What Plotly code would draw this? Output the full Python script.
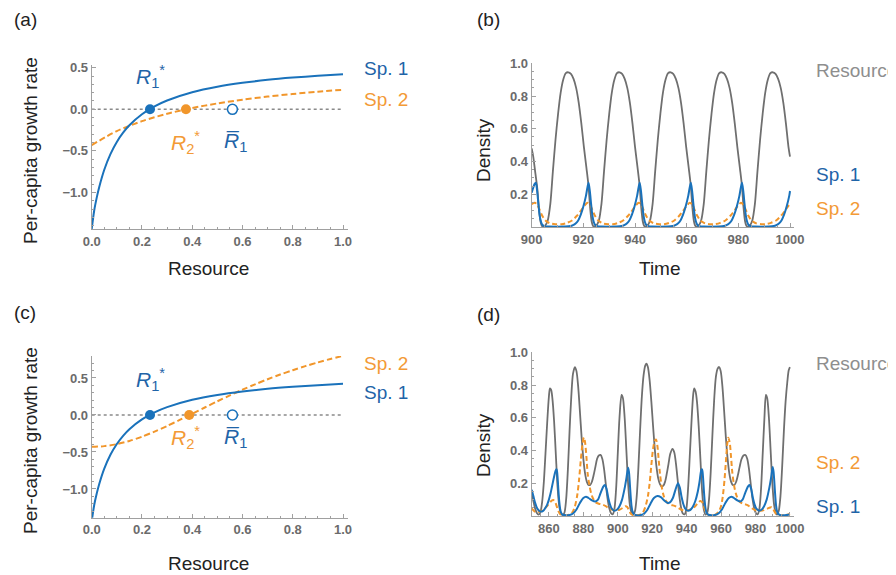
import plotly.graph_objects as go

# ---------------- data: panels (a) and (c) ----------------
res_sp1 = [0, 0.01, 0.02, 0.03, 0.05, 0.075, 0.1, 0.125, 0.15, 0.2, 0.25, 0.3, 0.4, 0.5, 0.6, 0.7, 0.8, 0.9, 1.0]
rate_sp1 = [-1.44, -1.216, -1.062, -0.933, -0.726, -0.535, -0.392, -0.281, -0.192, -0.060, 0.035, 0.106,
            0.205, 0.271, 0.318, 0.354, 0.381, 0.403, 0.421]
res_sp2_a = [0, 0.1, 0.2, 0.3, 0.4, 0.5, 0.6, 0.7, 0.8, 0.9, 1.0]
rate_sp2_a = [-0.43, -0.262, -0.1425, -0.0535, 0.0155, 0.0705, 0.1154, 0.1527, 0.1843, 0.2113, 0.2347]
res_sp2_c = [0, 0.05, 0.1, 0.15, 0.2, 0.25, 0.3, 0.35, 0.4, 0.45, 0.5, 0.55, 0.6, 0.65, 0.7, 0.75, 0.8,
             0.85, 0.9, 0.95, 1.0]
rate_sp2_c = [-0.43, -0.4208, -0.394, -0.3507, -0.2935, -0.2252, -0.149, -0.0673, 0.0169, 0.1014, 0.1845,
              0.265, 0.342, 0.4145, 0.4827, 0.5464, 0.6054, 0.6601, 0.7106, 0.757, 0.7998]
zero_line_x = [0, 1.0]
zero_line_y = [0, 0]
r1_star_a, r2_star_a, r1_bar_a = 0.232, 0.375, 0.56
r1_star_c, r2_star_c, r1_bar_c = 0.232, 0.388, 0.56

# ---------------- data: panel (b) ----------------
b_res_t = [900.0, 900.6, 901.4, 902.2, 902.8, 903.4, 903.8,
           904.2, 905.2, 906.2, 907.2, 908.2, 909.2, 910.2, 911.2, 912.2, 913.2, 914.2, 915.2, 916.2, 917.2,
           918.2, 919.2, 920.2, 921.2, 922.0, 922.6, 923.2, 923.6,
           924.0, 925.0, 926.0, 927.0, 928.0, 929.0, 930.0, 931.0, 932.0, 933.0, 934.0, 935.0, 936.0, 937.0,
           938.0, 939.0, 940.0, 941.0, 941.8, 942.4, 943.0, 943.4,
           943.8, 944.8, 945.8, 946.8, 947.8, 948.8, 949.8, 950.8, 951.8, 952.8, 953.8, 954.8, 955.8, 956.8,
           957.8, 958.8, 959.8, 960.8, 961.6, 962.2, 962.8, 963.2,
           963.6, 964.6, 965.6, 966.6, 967.6, 968.6, 969.6, 970.6, 971.6, 972.6, 973.6, 974.6, 975.6, 976.6,
           977.6, 978.6, 979.6, 980.6, 981.4, 982.0, 982.6, 983.0,
           983.4, 984.4, 985.4, 986.4, 987.4, 988.4, 989.4, 990.4, 991.4, 992.4, 993.4, 994.4, 995.4, 996.4,
           997.4, 998.4, 999.4, 1000.0]
b_res_y = [0.48, 0.43, 0.33, 0.23, 0.11, 0.035, 0.012,
           0.003, 0.008, 0.04, 0.14, 0.34, 0.53, 0.69, 0.82, 0.9, 0.94, 0.945, 0.935, 0.905, 0.85,
           0.76, 0.635, 0.49, 0.36, 0.25, 0.12, 0.035, 0.012,
           0.003, 0.008, 0.04, 0.14, 0.34, 0.53, 0.69, 0.82, 0.9, 0.94, 0.945, 0.935, 0.905, 0.85,
           0.76, 0.635, 0.49, 0.36, 0.25, 0.12, 0.035, 0.012,
           0.003, 0.008, 0.04, 0.14, 0.34, 0.53, 0.69, 0.82, 0.9, 0.94, 0.945, 0.935, 0.905, 0.85,
           0.76, 0.635, 0.49, 0.36, 0.25, 0.12, 0.035, 0.012,
           0.003, 0.008, 0.04, 0.14, 0.34, 0.53, 0.69, 0.82, 0.9, 0.94, 0.945, 0.935, 0.905, 0.85,
           0.76, 0.635, 0.49, 0.36, 0.25, 0.12, 0.035, 0.012,
           0.003, 0.008, 0.04, 0.14, 0.34, 0.53, 0.69, 0.82, 0.9, 0.94, 0.945, 0.935, 0.905, 0.85,
           0.76, 0.635, 0.49, 0.43]
b_sp1_t = [900.0, 900.6, 901.1, 901.6, 902.1, 902.6, 903.1, 903.6, 904.1, 905.1, 906.6, 909.6,
           913.0, 915.0, 916.0, 917.0, 918.0, 919.0, 920.0, 921.0, 921.5, 922.0, 922.5, 923.0, 923.5, 924.0,
           924.5, 925.5, 927.0, 930.0,
           932.8, 934.8, 935.8, 936.8, 937.8, 938.8, 939.8, 940.8, 941.3, 941.8, 942.3, 942.8, 943.3, 943.8,
           944.3, 945.3, 946.8, 949.8,
           952.6, 954.6, 955.6, 956.6, 957.6, 958.6, 959.6, 960.6, 961.1, 961.6, 962.1, 962.6, 963.1, 963.6,
           964.1, 965.1, 966.6, 969.6,
           972.4, 974.4, 975.4, 976.4, 977.4, 978.4, 979.4, 980.4, 980.9, 981.4, 981.9, 982.4, 982.9, 983.4,
           983.9, 984.9, 986.4, 989.4,
           991.7, 993.7, 994.7, 995.7, 996.7, 997.7, 998.7, 999.7, 1000.0]
b_sp1_y = [0.21, 0.24, 0.262, 0.27, 0.22, 0.14, 0.07, 0.032, 0.014, 0.005, 0.003, 0.002,
           0.003, 0.006, 0.012, 0.022, 0.04, 0.075, 0.125, 0.19, 0.235, 0.27, 0.22, 0.14, 0.07, 0.032,
           0.014, 0.005, 0.003, 0.002,
           0.003, 0.006, 0.012, 0.022, 0.04, 0.075, 0.125, 0.19, 0.235, 0.27, 0.22, 0.14, 0.07, 0.032,
           0.014, 0.005, 0.003, 0.002,
           0.003, 0.006, 0.012, 0.022, 0.04, 0.075, 0.125, 0.19, 0.235, 0.27, 0.22, 0.14, 0.07, 0.032,
           0.014, 0.005, 0.003, 0.002,
           0.003, 0.006, 0.012, 0.022, 0.04, 0.075, 0.125, 0.19, 0.235, 0.27, 0.22, 0.14, 0.07, 0.032,
           0.014, 0.005, 0.003, 0.002,
           0.003, 0.006, 0.012, 0.022, 0.04, 0.075, 0.125, 0.19, 0.22]
b_sp2_t = [900.0, 901.2, 902.2, 903.2, 904.2, 905.2, 906.2, 907.2, 909.2, 911.6,
           913.6, 915.6, 917.6, 918.6, 919.6, 920.6, 921.6, 922.6, 923.6, 924.6, 925.6, 926.6, 927.6, 929.6, 931.4,
           933.4, 935.4, 937.4, 938.4, 939.4, 940.4, 941.4, 942.4, 943.4, 944.4, 945.4, 946.4, 947.4, 949.4, 951.2,
           953.2, 955.2, 957.2, 958.2, 959.2, 960.2, 961.2, 962.2, 963.2, 964.2, 965.2, 966.2, 967.2, 969.2, 971.0,
           973.0, 975.0, 977.0, 978.0, 979.0, 980.0, 981.0, 982.0, 983.0, 984.0, 985.0, 986.0, 987.0, 989.0, 990.6,
           992.6, 994.6, 996.6, 997.6, 998.6, 999.6, 1000.0]
b_sp2_y = [0.14, 0.148, 0.135, 0.1, 0.065, 0.042, 0.03, 0.022, 0.017, 0.017,
           0.025, 0.04, 0.07, 0.09, 0.112, 0.133, 0.148, 0.135, 0.1, 0.065, 0.042, 0.03, 0.022, 0.017, 0.017,
           0.025, 0.04, 0.07, 0.09, 0.112, 0.133, 0.148, 0.135, 0.1, 0.065, 0.042, 0.03, 0.022, 0.017, 0.017,
           0.025, 0.04, 0.07, 0.09, 0.112, 0.133, 0.148, 0.135, 0.1, 0.065, 0.042, 0.03, 0.022, 0.017, 0.017,
           0.025, 0.04, 0.07, 0.09, 0.112, 0.133, 0.148, 0.135, 0.1, 0.065, 0.042, 0.03, 0.022, 0.017, 0.017,
           0.025, 0.04, 0.07, 0.09, 0.112, 0.133, 0.14]

# ---------------- data: panel (d) ----------------
d_res_t = [850, 851, 852, 853, 854, 855, 856, 857, 858, 859, 860, 860.6, 861.3, 862, 863, 864, 865, 866, 867,
           868, 869, 870, 871, 872, 873, 874, 875.1, 876, 877, 878, 879, 880, 881, 882, 883, 884, 885, 886, 887,
           888, 889, 890, 891, 892, 893, 894, 895, 896, 897, 898, 899, 900, 901, 902.2, 903, 904, 905, 906, 907,
           908, 909, 910, 911, 912, 913, 914, 915, 916, 916.7, 917.5, 918.5, 919.5, 920.5, 921.5, 922.5, 923.5,
           924.5, 925.5, 926.5, 927.5, 928.5, 929.5, 930.5, 931.8, 932.8, 933.8, 934.8, 935.8, 936.8, 937.8,
           938.8, 939.8, 940.8, 941.8, 942.8, 943.8, 944.4, 945.2, 946, 947, 948, 949, 950, 951, 952, 953, 954,
           955, 956, 957, 958, 958.9, 959.8, 960.8, 961.8, 962.8, 963.8, 964.8, 965.8, 966.8, 967.8, 968.8,
           969.8, 970.8, 971.8, 973, 974.2, 975.2, 976.2, 977.2, 978.2, 979.2, 980.2, 981.2, 982.2, 983.2,
           984.2, 985.2, 986.05, 986.8, 987.8, 988.8, 989.8, 990.8, 991.8, 992.5, 993.5, 994.5, 995.5, 996.5,
           997.5, 998.5, 999.3, 1000]
d_res_y = [0.13, 0.09, 0.045, 0.018, 0.008, 0.02, 0.08, 0.2, 0.38, 0.57, 0.73, 0.78, 0.77, 0.72, 0.58, 0.38,
           0.18, 0.06, 0.015, 0.006, 0.02, 0.1, 0.28, 0.52, 0.73, 0.87, 0.91, 0.885, 0.79, 0.64, 0.48, 0.35,
           0.26, 0.21, 0.19, 0.19, 0.21, 0.25, 0.3, 0.35, 0.37, 0.373, 0.35, 0.29, 0.2, 0.11, 0.05, 0.018, 0.01,
           0.04, 0.16, 0.38, 0.6, 0.74, 0.72, 0.6, 0.4, 0.2, 0.07, 0.02, 0.008, 0.03, 0.12, 0.3, 0.53, 0.73,
           0.86, 0.92, 0.93, 0.91, 0.83, 0.7, 0.55, 0.41, 0.3, 0.23, 0.195, 0.18, 0.185, 0.21, 0.26, 0.32, 0.38,
           0.41, 0.39, 0.32, 0.22, 0.12, 0.05, 0.015, 0.01, 0.04, 0.16, 0.36, 0.57, 0.74, 0.78, 0.76, 0.7, 0.55,
           0.35, 0.15, 0.04, 0.008, 0.02, 0.1, 0.27, 0.5, 0.71, 0.85, 0.9, 0.91, 0.885, 0.79, 0.64, 0.48, 0.35,
           0.26, 0.21, 0.19, 0.19, 0.21, 0.25, 0.3, 0.345, 0.37, 0.373, 0.35, 0.29, 0.2, 0.11, 0.05, 0.018, 0.01,
           0.04, 0.16, 0.38, 0.6, 0.74, 0.72, 0.6, 0.4, 0.2, 0.07, 0.02, 0.008, 0.03, 0.12, 0.3, 0.52, 0.7,
           0.82, 0.89, 0.91]
d_sp1_t = [850, 851, 852, 853, 854, 855, 856, 857, 858, 859, 860, 861, 862, 863, 864, 864.5, 865, 865.5, 866,
           866.5, 867, 868, 870, 872, 874, 876, 878, 880, 881.5, 883, 885, 887, 888.5, 890, 891.5, 892.5, 893.5,
           894.5, 895.5, 896.5, 898, 899.5, 901, 902.5, 904, 905, 906, 906.5, 907, 907.5, 908, 908.5, 909.5,
           911, 913, 915, 917, 919, 921, 923, 925, 927, 929, 930.5, 932, 933.5, 935, 936, 937, 938, 939, 940.5,
           942, 943.5, 945, 946.5, 947.5, 948.5, 949, 949.5, 950, 950.5, 951, 951.5, 952.5, 954.5, 956.5, 958.5,
           960.5, 962.5, 964.5, 966, 967.5, 969.5, 971, 972.5, 974, 975.5, 976.5, 977.5, 978.5, 979.5, 980.5,
           982, 983.5, 985, 986.5, 988, 989, 990, 990.5, 991, 991.5, 992, 992.5, 993.5, 995, 997, 999, 1000]
d_sp1_y = [0.16, 0.12, 0.08, 0.05, 0.035, 0.028, 0.028, 0.035, 0.05, 0.07, 0.1, 0.14, 0.19, 0.24, 0.28, 0.285,
           0.24, 0.16, 0.09, 0.045, 0.022, 0.008, 0.004, 0.006, 0.015, 0.04, 0.08, 0.11, 0.118, 0.11, 0.095,
           0.088, 0.1, 0.14, 0.178, 0.19, 0.165, 0.11, 0.07, 0.045, 0.033, 0.038, 0.06, 0.1, 0.17, 0.23, 0.295,
           0.27, 0.2, 0.12, 0.06, 0.03, 0.01, 0.004, 0.005, 0.012, 0.035, 0.075, 0.11, 0.122, 0.115, 0.095,
           0.08, 0.085, 0.11, 0.16, 0.2, 0.175, 0.12, 0.075, 0.048, 0.033, 0.036, 0.055, 0.09, 0.15, 0.21, 0.28,
           0.285, 0.24, 0.16, 0.09, 0.045, 0.022, 0.008, 0.004, 0.006, 0.015, 0.04, 0.08, 0.11, 0.118, 0.11,
           0.095, 0.088, 0.1, 0.14, 0.178, 0.19, 0.165, 0.11, 0.07, 0.045, 0.033, 0.038, 0.06, 0.1, 0.17, 0.23,
           0.3, 0.27, 0.2, 0.12, 0.06, 0.03, 0.01, 0.004, 0.005, 0.008, 0.01]
d_sp2_t = [850, 851, 852, 853, 854, 856, 858, 860, 861.5, 862.5, 863.5, 864.5, 865.5, 866.5, 868, 870, 872,
           873.5, 875, 876.5, 877.5, 878.5, 879.5, 880.3, 881, 881.8, 882.5, 883.5, 884.5, 885.5, 887, 889, 891,
           893, 895, 897, 899, 901, 903, 904.5, 905.5, 906.5, 907.5, 909, 911, 913, 914.5, 916, 917.5, 918.5,
           919.5, 920.5, 921.5, 922.2, 923, 923.8, 924.5, 925.5, 926.5, 927.5, 929, 931, 933, 935, 937, 939,
           941, 943, 945, 946.5, 948, 949, 950, 951, 952, 953.5, 955.5, 957, 958.5, 960, 961, 962, 962.8, 963.6,
           964.2, 965, 965.8, 966.5, 967.5, 968.5, 969.5, 971, 973, 975, 977, 979, 981, 983, 985, 987, 988.5,
           989.3, 990.2, 991, 992, 993.5, 995.5, 997.5, 999, 1000]
d_sp2_y = [0.047, 0.035, 0.025, 0.022, 0.025, 0.035, 0.05, 0.075, 0.093, 0.098, 0.088, 0.06, 0.03, 0.012,
           0.005, 0.004, 0.008, 0.02, 0.055, 0.13, 0.22, 0.34, 0.44, 0.48, 0.45, 0.36, 0.26, 0.19, 0.14, 0.11,
           0.085, 0.075, 0.07, 0.06, 0.045, 0.038, 0.035, 0.038, 0.05, 0.06, 0.055, 0.035, 0.015, 0.005, 0.004,
           0.008, 0.02, 0.055, 0.12, 0.2, 0.31, 0.41, 0.46, 0.468, 0.43, 0.34, 0.26, 0.18, 0.13, 0.1, 0.08,
           0.068, 0.062, 0.05, 0.038, 0.032, 0.036, 0.045, 0.06, 0.078, 0.092, 0.085, 0.055, 0.028, 0.012,
           0.005, 0.004, 0.01, 0.025, 0.06, 0.12, 0.22, 0.33, 0.44, 0.478, 0.45, 0.36, 0.27, 0.19, 0.14, 0.11,
           0.085, 0.075, 0.068, 0.055, 0.04, 0.032, 0.032, 0.036, 0.045, 0.052, 0.053, 0.045, 0.028, 0.012,
           0.005, 0.004, 0.006, 0.01, 0.014]

# ---------------- style ----------------
# The page body has an 8px default margin, so the figure is drawn 8px smaller and
# positions are given in window pixels minus that offset.
OFF = 8
W, H = 896 - OFF, 575 - OFF
BLUE = "#1a72bb"
BLUE_TXT = "#1f64a8"
ORANGE = "#f1962b"
ORANGE_TXT = "#f39a36"
GRAY = "#6f6f6f"
GRAY_TXT = "#8e8e8e"
AX = "#a0a0a0"
FONT = "Liberation Sans"


def px(x):
    return (x - OFF) / W


def py(y):
    return 1 - (y - OFF) / H


fig = go.Figure()

spl = dict(shape="spline", smoothing=0.8)

# panel (a)
fig.add_trace(go.Scatter(x=zero_line_x, y=zero_line_y, mode="lines", xaxis="x", yaxis="y",
                         line=dict(color="#8a8a8a", width=1.5, dash="dot")))
fig.add_trace(go.Scatter(x=res_sp2_a, y=rate_sp2_a, mode="lines", xaxis="x", yaxis="y",
                         line=dict(color=ORANGE, width=2, dash="6px,3px", **spl)))
fig.add_trace(go.Scatter(x=res_sp1, y=rate_sp1, mode="lines", xaxis="x", yaxis="y",
                         line=dict(color=BLUE, width=2, **spl)))
fig.add_trace(go.Scatter(x=[r1_star_a], y=[0], mode="markers", xaxis="x", yaxis="y",
                         marker=dict(color=BLUE, size=10)))
fig.add_trace(go.Scatter(x=[r2_star_a], y=[0], mode="markers", xaxis="x", yaxis="y",
                         marker=dict(color=ORANGE, size=10)))
fig.add_trace(go.Scatter(x=[r1_bar_a], y=[0], mode="markers", xaxis="x", yaxis="y",
                         marker=dict(color="white", size=10, line=dict(color=BLUE, width=1.6))))

# panel (c)
fig.add_trace(go.Scatter(x=zero_line_x, y=zero_line_y, mode="lines", xaxis="x3", yaxis="y3",
                         line=dict(color="#8a8a8a", width=1.5, dash="dot")))
fig.add_trace(go.Scatter(x=res_sp2_c, y=rate_sp2_c, mode="lines", xaxis="x3", yaxis="y3",
                         line=dict(color=ORANGE, width=2, dash="6px,3px", **spl)))
fig.add_trace(go.Scatter(x=res_sp1, y=rate_sp1, mode="lines", xaxis="x3", yaxis="y3",
                         line=dict(color=BLUE, width=2, **spl)))
fig.add_trace(go.Scatter(x=[r1_star_c], y=[0], mode="markers", xaxis="x3", yaxis="y3",
                         marker=dict(color=BLUE, size=10)))
fig.add_trace(go.Scatter(x=[r2_star_c], y=[0], mode="markers", xaxis="x3", yaxis="y3",
                         marker=dict(color=ORANGE, size=10)))
fig.add_trace(go.Scatter(x=[r1_bar_c], y=[0], mode="markers", xaxis="x3", yaxis="y3",
                         marker=dict(color="white", size=10, line=dict(color=BLUE, width=1.6))))

# panel (b)
fig.add_trace(go.Scatter(x=b_res_t, y=b_res_y, mode="lines", xaxis="x2", yaxis="y2",
                         line=dict(color=GRAY, width=1.8, **spl)))
fig.add_trace(go.Scatter(x=b_sp2_t, y=b_sp2_y, mode="lines", xaxis="x2", yaxis="y2",
                         line=dict(color=ORANGE, width=2, dash="5px,3px", **spl)))
fig.add_trace(go.Scatter(x=b_sp1_t, y=b_sp1_y, mode="lines", xaxis="x2", yaxis="y2",
                         line=dict(color=BLUE, width=2, **spl)))

# panel (d)
fig.add_trace(go.Scatter(x=d_res_t, y=d_res_y, mode="lines", xaxis="x4", yaxis="y4",
                         line=dict(color=GRAY, width=1.8, **spl)))
fig.add_trace(go.Scatter(x=d_sp2_t, y=d_sp2_y, mode="lines", xaxis="x4", yaxis="y4",
                         line=dict(color=ORANGE, width=2, dash="5px,3px", **spl)))
fig.add_trace(go.Scatter(x=d_sp1_t, y=d_sp1_y, mode="lines", xaxis="x4", yaxis="y4",
                         line=dict(color=BLUE, width=2, **spl)))

tickfont = dict(family=FONT, size=13, color="#6b6b6b", weight="bold")


def axis(domain, rng, tickvals, fmt, minor_dtick, anchor, minor_tick0=0):
    return dict(domain=domain, range=rng, anchor=anchor, showline=True, linecolor=AX, linewidth=1,
                ticks="inside", ticklen=4, tickcolor=AX, tickwidth=1, showgrid=False, zeroline=False,
                automargin=False, tickvals=tickvals, tickformat=fmt, tickfont=tickfont,
                minor=dict(ticks="inside", ticklen=2, tickcolor=AX, dtick=minor_dtick, tick0=minor_tick0,
                           showgrid=False))


x_ac_dom = [px(91.7), px(347.7)]
x_bd_dom = [px(531.7), px(794.3)]
x_ac_rng = [0, 1.0187]

fig.update_layout(
    template="none",
    width=W, height=H, autosize=False,
    margin=dict(l=0, r=0, t=0, b=0, pad=0, autoexpand=False),
    paper_bgcolor="white", plot_bgcolor="white", showlegend=False,
    font=dict(family=FONT),
    xaxis=axis(x_ac_dom, x_ac_rng, [0, 0.2, 0.4, 0.6, 0.8, 1.0], ".1f", 0.05, "y"),
    yaxis=axis([py(229), py(65)], [-1.4387, 0.5325], [-1.0, -0.5, 0, 0.5], ".1f", 0.1, "x"),
    xaxis3=axis(x_ac_dom, x_ac_rng, [0, 0.2, 0.4, 0.6, 0.8, 1.0], ".1f", 0.05, "y3"),
    yaxis3=axis([py(517.7), py(356)], [-1.388, 0.797], [-1.0, -0.5, 0, 0.5], ".1f", 0.1, "x3"),
    xaxis2=axis(x_bd_dom, [900, 1001.66], [900, 920, 940, 960, 980, 1000], "d", 5, "y2"),
    yaxis2=axis([py(227), py(63.3)], [0, 1.0], [0.2, 0.4, 0.6, 0.8, 1.0], ".1f", 0.05, "x2"),
    xaxis4=axis(x_bd_dom, [850, 1002.55], [860, 880, 900, 920, 940, 960, 980, 1000], "d", 5, "y4"),
    yaxis4=axis([py(516), py(352.3)], [0, 1.0], [0.2, 0.4, 0.6, 0.8, 1.0], ".1f", 0.05, "x4"),
)

ann = []
BIG = 19


def txt(text, x, y, color="#222222", size=BIG, xanchor="center", yanchor="middle", textangle=0,
        xref="paper", yref="paper", xshift=0, yshift=0):
    ann.append(dict(text=text, x=x, y=y, xref=xref, yref=yref, showarrow=False, xanchor=xanchor,
                    yanchor=yanchor, textangle=textangle, xshift=xshift, yshift=yshift,
                    font=dict(family=FONT, size=size, color=color)))


# panel letters
txt("(a)", px(12), py(19), xanchor="left")
txt("(b)", px(475), py(19), xanchor="left")
txt("(c)", px(12), py(312), xanchor="left")
txt("(d)", px(475), py(314), xanchor="left")

# axis titles
txt("Per-capita growth rate", px(30), py(151), textangle=-90)
txt("Per-capita growth rate", px(30), py(441), textangle=-90)
txt("Resource", px(208), py(268))
txt("Resource", px(208), py(563))
txt("Density", px(483), py(150), textangle=-90)
txt("Density", px(483), py(445), textangle=-90)
txt("Time", px(660), py(268))
txt("Time", px(660), py(563))

# series labels
txt("Sp. 1", px(362), py(68), color=BLUE_TXT, xanchor="left")
txt("Sp. 2", px(362), py(99), color=ORANGE_TXT, xanchor="left")
txt("Sp. 2", px(362), py(363), color=ORANGE_TXT, xanchor="left")
txt("Sp. 1", px(362), py(392), color=BLUE_TXT, xanchor="left")
txt("Resource", px(814), py(70), color=GRAY_TXT, xanchor="left")
txt("Sp. 1", px(814), py(174), color=BLUE_TXT, xanchor="left")
txt("Sp. 2", px(814), py(209), color=ORANGE_TXT, xanchor="left")
txt("Resource", px(814), py(363), color=GRAY_TXT, xanchor="left")
txt("Sp. 2", px(814), py(462), color=ORANGE_TXT, xanchor="left")
txt("Sp. 1", px(814), py(506), color=BLUE_TXT, xanchor="left")

# point labels
RS = 21
R1S = "<i>R</i><sub>1</sub><sup>*</sup>"
R2S = "<i>R</i><sub>2</sub><sup>*</sup>"
R1B = "<i>R\u0305</i><sub>1</sub>"
txt(R1S, r1_star_a, 0, color=BLUE_TXT, size=RS, xref="x", yref="y", yshift=33)
txt(R2S, r2_star_a, 0, color=ORANGE_TXT, size=RS, xref="x", yref="y", yshift=-33)
txt(R1B, r1_bar_a, 0, color=BLUE_TXT, size=RS, xref="x", yref="y", yshift=-33, xshift=3)
txt(R1S, r1_star_c, 0, color=BLUE_TXT, size=RS, xref="x3", yref="y3", yshift=35)
txt(R2S, r2_star_c, 0, color=ORANGE_TXT, size=RS, xref="x3", yref="y3", yshift=-23, xshift=-4)
txt(R1B, r1_bar_c, 0, color=BLUE_TXT, size=RS, xref="x3", yref="y3", yshift=-23, xshift=3)

fig.update_layout(annotations=ann)
fig.write_html("out.html")
